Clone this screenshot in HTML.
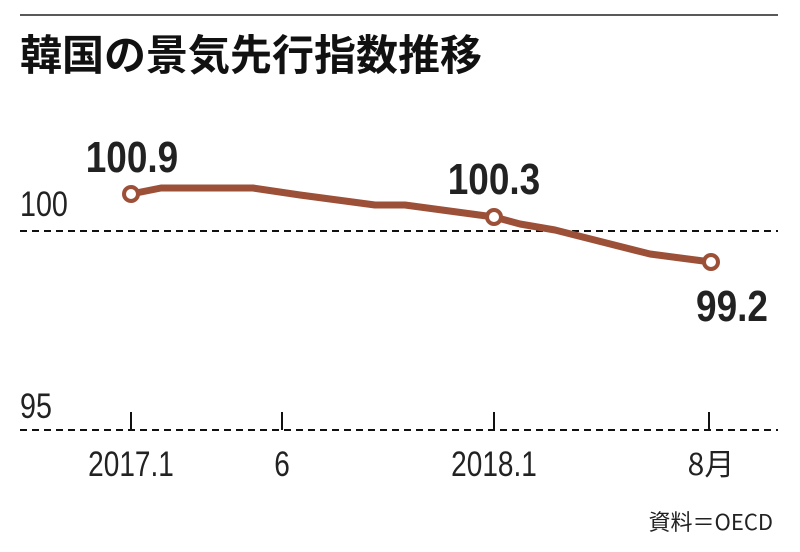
<!DOCTYPE html><html><head><meta charset="utf-8"><style>body{margin:0;background:#fff}svg text{font-family:"Liberation Sans","Noto Sans CJK JP",sans-serif}</style></head><body>
<svg width="800" height="547" viewBox="0 0 800 547" xmlns="http://www.w3.org/2000/svg">
<line x1="20" y1="15" x2="778" y2="15" stroke="#222" stroke-width="1.5"/>
<text x="20" y="70" font-size="42" font-weight="bold" fill="#111" style="font-family:'Noto Sans CJK JP',sans-serif">韓国の景気先行指数推移</text>
<line x1="20" y1="231" x2="778" y2="231" stroke="#111" stroke-width="2" stroke-dasharray="7,5"/>
<line x1="20" y1="430" x2="778" y2="430" stroke="#111" stroke-width="2" stroke-dasharray="7,5"/>
<text x="20" y="216" font-size="35" fill="#222" transform="scale(0.82,1)" transform-origin="20 216">100</text>
<text x="20" y="418" font-size="35" fill="#222" transform="scale(0.82,1)" transform-origin="20 418">95</text>
<g stroke="#111" stroke-width="2"><line x1="131" y1="412" x2="131" y2="430"/><line x1="282" y1="412" x2="282" y2="430"/><line x1="494" y1="412" x2="494" y2="430"/><line x1="709" y1="412" x2="709" y2="430"/></g>
<g font-size="35" fill="#222" text-anchor="middle">
<text x="131" y="476" transform="scale(0.8,1)" transform-origin="131 476">2017.1</text>
<text x="282" y="476" transform="scale(0.8,1)" transform-origin="282 476">6</text>
<text x="494" y="476" transform="scale(0.8,1)" transform-origin="494 476">2018.1</text>
<text x="711" y="475" style="font-family:'Noto Sans CJK JP',sans-serif" font-size="30">8月</text></g>
<polyline points="131,194 161,188 253,188 300,195 375,205 405,205 494,217 520,224 555,230 650,254 711,262" fill="none" stroke="#9c5038" stroke-width="7" stroke-linejoin="round"/>
<g fill="#fff" stroke="#9c5038" stroke-width="4"><circle cx="131" cy="194" r="7"/><circle cx="494" cy="217" r="7"/><circle cx="711" cy="262" r="7"/></g>
<g font-size="44" font-weight="bold" fill="#222" text-anchor="middle">
<text x="132" y="172" transform="scale(0.84,1)" transform-origin="132 172">100.9</text>
<text x="494" y="194" transform="scale(0.84,1)" transform-origin="494 194">100.3</text>
<text x="732" y="321" transform="scale(0.84,1)" transform-origin="732 321">99.2</text></g>
<text x="773" y="530" font-size="22" fill="#222" text-anchor="end" style="font-family:'Noto Sans CJK JP',sans-serif">資料＝OECD</text>
</svg></body></html>
